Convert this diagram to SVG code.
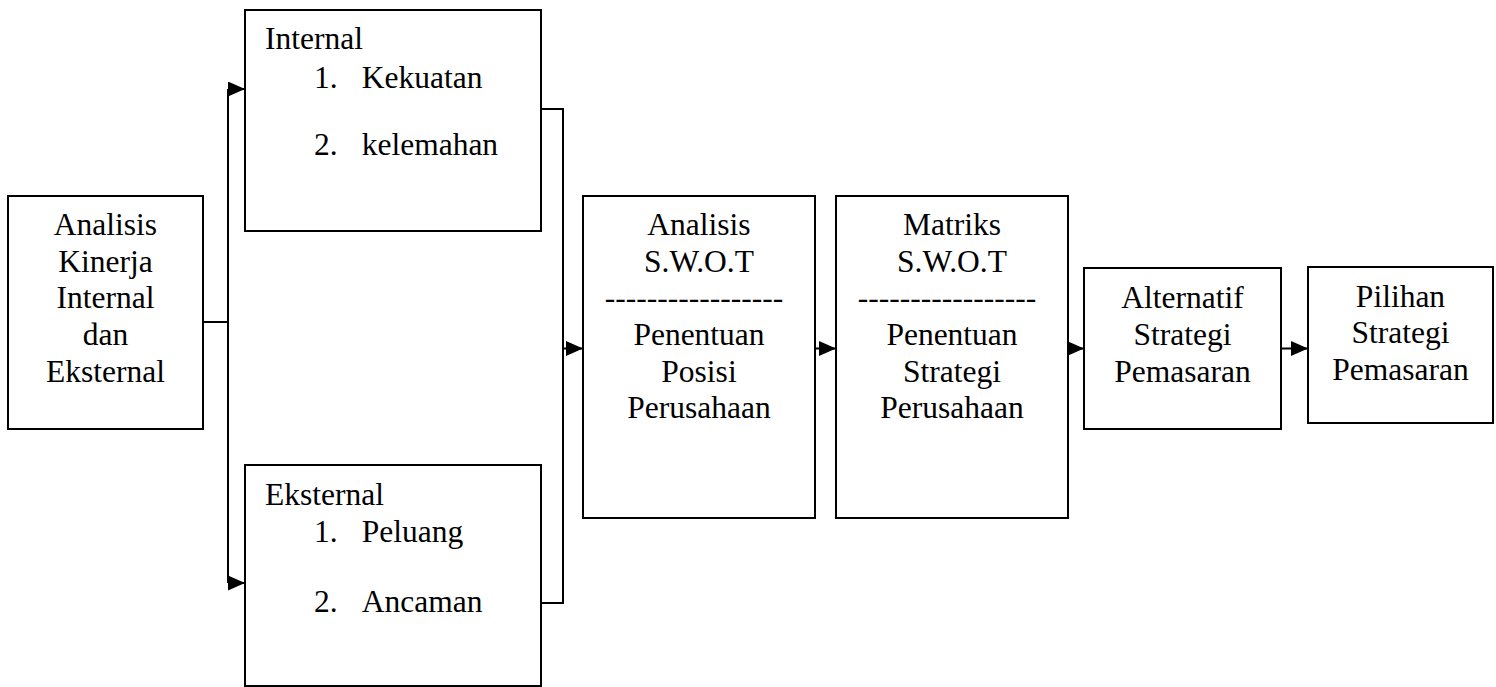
<svg xmlns="http://www.w3.org/2000/svg" width="1496" height="687" viewBox="0 0 1496 687">
<style>
.box{fill:#fff;stroke:#000;stroke-width:2}
.t{font-family:"Liberation Serif","Times New Roman",serif;font-size:31.5px;fill:#000}
.c{text-anchor:middle}
.ln{fill:none;stroke:#000;stroke-width:2}
</style>
<defs>
<marker id="ah" markerUnits="userSpaceOnUse" markerWidth="17" markerHeight="15" refX="17" refY="7.5" orient="auto">
<path d="M0,0 L17,7.5 L0,15 z" fill="#000"/>
</marker>
</defs>
<rect width="1496" height="687" fill="#fff"/>
<g id="connectors">
<path class="ln" d="M203,322 H228"/>
<path class="ln" d="M228,89 V583"/>
<path class="ln" d="M228,89 H245" marker-end="url(#ah)"/>
<path class="ln" d="M228,583 H245" marker-end="url(#ah)"/>
<path class="ln" d="M541,109 H563 V603 H541"/>
<path class="ln" d="M563,348.5 H583" marker-end="url(#ah)"/>
<path class="ln" d="M815,348.5 H836" marker-end="url(#ah)"/>
<path class="ln" d="M1068,348.5 H1084" marker-end="url(#ah)"/>
<path class="ln" d="M1281,348.5 H1308" marker-end="url(#ah)"/>
</g>
<g id="kinerja">
<rect class="box" x="8" y="196" width="195" height="233"/>
<text class="t c" x="105.5" y="235">Analisis</text>
<text class="t c" x="105.5" y="271.7">Kinerja</text>
<text class="t c" x="105.5" y="308.3">Internal</text>
<text class="t c" x="105.5" y="345">dan</text>
<text class="t c" x="105.5" y="381.7">Eksternal</text>
</g>
<g id="internal">
<rect class="box" x="245" y="10" width="296" height="221"/>
<text class="t" x="265" y="49">Internal</text>
<text class="t" x="314" y="87.5">1.</text>
<text class="t" x="361.7" y="87.5">Kekuatan</text>
<text class="t" x="314" y="155">2.</text>
<text class="t" x="361.7" y="155">kelemahan</text>
</g>
<g id="eksternal">
<rect class="box" x="245" y="465" width="296" height="221"/>
<text class="t" x="265" y="505">Eksternal</text>
<text class="t" x="314" y="541.7">1.</text>
<text class="t" x="361.7" y="541.7">Peluang</text>
<text class="t" x="314" y="611.7">2.</text>
<text class="t" x="361.7" y="611.7">Ancaman</text>
</g>
<g id="analisis-swot">
<rect class="box" x="583" y="196" width="232" height="322"/>
<text class="t c" x="699" y="235">Analisis</text>
<text class="t c" x="699" y="271.7">S.W.O.T</text>
<text class="t c" x="694" y="308.3">-----------------</text>
<text class="t c" x="699" y="345">Penentuan</text>
<text class="t c" x="699" y="381.7">Posisi</text>
<text class="t c" x="699" y="418.3">Perusahaan</text>
</g>
<g id="matriks-swot">
<rect class="box" x="836" y="196" width="232" height="322"/>
<text class="t c" x="952" y="235">Matriks</text>
<text class="t c" x="952" y="271.7">S.W.O.T</text>
<text class="t c" x="947" y="308.3">-----------------</text>
<text class="t c" x="952" y="345">Penentuan</text>
<text class="t c" x="952" y="381.7">Strategi</text>
<text class="t c" x="952" y="418.3">Perusahaan</text>
</g>
<g id="alternatif">
<rect class="box" x="1084" y="268" width="197" height="161"/>
<text class="t c" x="1182.5" y="308.3">Alternatif</text>
<text class="t c" x="1182.5" y="345">Strategi</text>
<text class="t c" x="1182.5" y="381.7">Pemasaran</text>
</g>
<g id="pilihan">
<rect class="box" x="1308" y="267" width="185" height="156"/>
<text class="t c" x="1400.5" y="306.7">Pilihan</text>
<text class="t c" x="1400.5" y="343.3">Strategi</text>
<text class="t c" x="1400.5" y="380">Pemasaran</text>
</g>
</svg>
